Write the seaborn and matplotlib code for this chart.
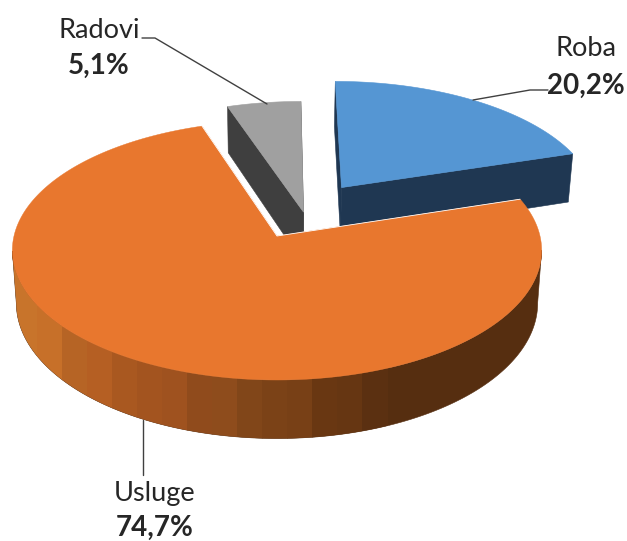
import numpy as np
import matplotlib
matplotlib.use("Agg")
import matplotlib.pyplot as plt
import seaborn as sns

# --- Data ---
categories = ["Roba", "Usluge", "Radovi"]
shares = [20.2, 74.7, 5.1]

top_colors = ["#5596D3", "#E8772E", "#A0A0A0"]
face_colors = ["#1F3752", "#8A4A1A", "#3F3F3F"]
side_stops = ["#C8742B", "#B25D22", "#9C501E", "#84481A", "#6F3A13", "#562E10"]

# --- Pie geometry (pixels of the 627x541 picture) ---
CX, CY = 277, 236
RX, RY = 263, 128
PERSP = 9.0
DEPTH = 52
SHRINK = 0.985
# how far each slice is pulled out of the centre, in pie radii
explode = [(0.256, -0.395), (0.0, 0.0), (0.103, -0.19)]

sns.set_theme(style="white")
plt.rcParams["font.family"] = ["Lato", "DejaVu Sans"]


def project(x, y, low=False):
    s = PERSP / (PERSP - y)
    px = RX * x * s
    py = CY + RY * y * s
    if low:
        return CX + px * SHRINK, py + DEPTH * s
    return CX + px, py


def rim(off, a0, a1, low=False):
    t = np.radians(np.linspace(a0, a1, max(int(abs(a1 - a0)) * 2, 2)))
    return project(off[0] + np.sin(t), off[1] - np.cos(t), low)


def fill_poly(ax, xs, ys, color, z):
    ax.fill(xs, ys, color=color, lw=0.4, zorder=z)


fig = plt.figure(figsize=(6.27, 5.41), dpi=100)
ax = fig.add_axes([0, 0, 1, 1])
ax.set_xlim(0, 627)
ax.set_ylim(541, 0)
ax.axis("off")

# slice angles, clockwise from 12 o'clock
edges = np.concatenate([[0], np.cumsum(shares)]) * 3.6

# --- Back slices: cut faces then top ---
for i in [2, 0]:
    off = explode[i]
    a0, a1 = edges[i], edges[i + 1]
    ax0, ay0 = project(off[0], off[1], False)
    ax1, ay1 = project(off[0], off[1], True)
    for a in (a0, a1):
        tx, ty = rim(off, a, a, False)
        bx, by = rim(off, a, a, True)
        fill_poly(ax, [ax0, tx[0], bx[0], ax1], [ay0, ty[0], by[0], ay1], face_colors[i], 2)
    xs, ys = rim(off, a0, a1)
    fill_poly(ax, np.r_[ax0, xs], np.r_[ay0, ys], top_colors[i], 3)

# --- Orange slice: side drawn as vertical bands clipped to its outline ---
off = explode[1]
a0, a1 = edges[1], edges[2]
tx, ty = rim(off, a0, 300)
bx, by = rim(off, a0, 300, True)
# only the front of the rim, between its left and right extremes
t_r, t_l = np.argmax(tx), np.argmin(tx)
b_r, b_l = np.argmax(bx), np.argmin(bx)
out_x = np.r_[tx[t_r:t_l + 1], bx[b_r:b_l + 1][::-1]]
out_y = np.r_[ty[t_r:t_l + 1], by[b_r:b_l + 1][::-1]]
outline = ax.fill(out_x, out_y, color=side_stops[-1], lw=0.4, zorder=4)[0]

side_palette = sns.blend_palette(side_stops, 64)
band_tint = [1.0, 1.03, 0.98, 1.02, 0.99]
band_w = 25
for n, x0 in enumerate(np.arange(12, 375, band_w)):
    t = (x0 - 12) / (375 - 12)
    c = np.array(side_palette[int(t * 63)]) * band_tint[n % len(band_tint)]
    band = ax.axvspan(x0, x0 + band_w + 0.5, color=tuple(np.clip(c, 0, 1)), lw=0, zorder=4)
    band.set_clip_path(outline)

xs, ys = rim(off, a0, a1)
ax0, ay0 = project(off[0], off[1])
ax.fill(np.r_[ax0, xs], np.r_[ay0, ys], color=top_colors[1], lw=0.3, zorder=5)
# thin white gap along the two cut edges
ax.plot([xs[-1], ax0, xs[0]], [ys[-1], ay0, ys[0]], color="white", lw=0.6, zorder=5)

# --- Leader lines ---
leaders = {
    "Roba": ([473, 530, 548], [100, 90, 90]),
    "Usluge": ([143, 143], [420, 475]),
    "Radovi": ([142, 155, 267], [38, 38, 104]),
}
for name, (lx, ly) in leaders.items():
    ax.plot(lx, ly, color="#404040", lw=1.0, zorder=6)

# --- Labels ---
label_pos = {"Roba": (586, 49, 86), "Usluge": (155, 494, 527.5), "Radovi": (99, 30, 66)}
for name, share in zip(categories, shares):
    x, y1, y2 = label_pos[name]
    ax.text(x, y1, name, ha="center", va="center", fontsize=19.5, color="#262626", zorder=7)
    ax.text(x, y2, f"{share:.1f}%".replace(".", ","), ha="center", va="center",
            fontsize=20, fontweight="bold", color="#262626", zorder=7)

fig.savefig("out.png", dpi=100)
